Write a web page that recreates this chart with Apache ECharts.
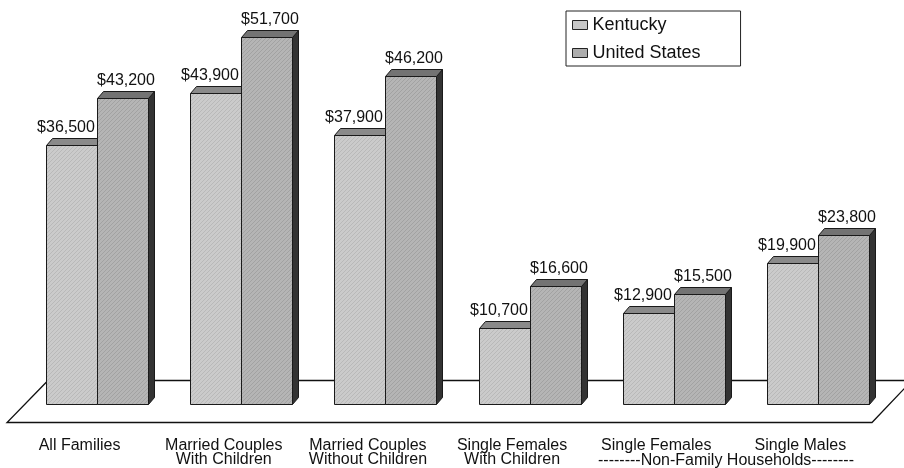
<!DOCTYPE html>
<html>
<head>
<meta charset="utf-8">
<title>Median Household Income: Kentucky vs. United States</title>
<script src="https://cdn.jsdelivr.net/npm/echarts@6/dist/echarts.min.js"></script>
<style>
  html, body { margin: 0; padding: 0; background: #fff; }
  #chart { width: 904px; height: 468px; }
</style>
</head>
<body>
<div id="chart"></div>
<script>
// Household types along the floor of the chart
const categories = [
  'All Families',
  'Married Couples\nWith Children',
  'Married Couples\nWithout Children',
  'Single Females\nWith Children',
  'Single Females',
  'Single Males'
];
// Median income, dollars
const kentucky = [36500, 43900, 37900, 10700, 12900, 19900];
const unitedStates = [43200, 51700, 46200, 16600, 15500, 23800];
const seriesNames = ['Kentucky', 'United States'];

const FONT = '"Liberation Sans", Arial, Helvetica, sans-serif';
const DEPTH_X = 6;
const DEPTH_Y = 7;

// Fine diagonal hatching used on the front face of each bar
function hatch(base, line) {
  const c = document.createElement('canvas');
  c.width = 4; c.height = 4;
  const g = c.getContext('2d');
  g.fillStyle = base;
  g.fillRect(0, 0, 4, 4);
  g.fillStyle = line;
  for (let i = 0; i < 4; i++) g.fillRect(i, 3 - i, 1, 1);
  return { image: c, repeat: 'repeat' };
}

const faces = [
  { front: hatch('#cbcbcb', '#b9b9b9'), top: '#8a8a8a', side: '#3a3a3a', plain: '#c6c6c6', labelShift: -6 },
  { front: hatch('#b5b5b5', '#a2a2a2'), top: '#737373', side: '#333333', plain: '#adadad', labelShift: 3 }
];

function money(v) {
  return '$' + v.toLocaleString('en-US');
}

function renderBar(params, api) {
  const cat = api.value(0);
  const val = api.value(1);
  const base = api.coord([cat, 0]);
  const top = api.coord([cat, val]);
  const band = api.size([1, 0])[0];
  const w = Math.round(band * 0.354);
  const s = params.seriesIndex;
  const f = faces[s];
  const x0 = Math.round(s === 0 ? base[0] - w : base[0]) + 0.5;
  const x1 = x0 + w;
  const yb = Math.round(base[1]) + 0.5;
  const yt = Math.round(top[1]) + 0.5;
  const edge = { stroke: '#1a1a1a', lineWidth: 1 };
  return {
    type: 'group',
    children: [
      {
        type: 'polygon',
        shape: { points: [[x1, yt], [x1 + DEPTH_X, yt - DEPTH_Y], [x1 + DEPTH_X, yb - DEPTH_Y], [x1, yb]] },
        style: Object.assign({ fill: f.side }, edge)
      },
      {
        type: 'polygon',
        shape: { points: [[x0, yt], [x0 + DEPTH_X, yt - DEPTH_Y], [x1 + DEPTH_X, yt - DEPTH_Y], [x1, yt]] },
        style: Object.assign({ fill: f.top }, edge)
      },
      {
        type: 'rect',
        shape: { x: x0, y: yt, width: w, height: yb - yt },
        style: Object.assign({ fill: f.front }, edge)
      },
      {
        type: 'text',
        x: (x0 + x1) / 2 + f.labelShift,
        y: yt - DEPTH_Y - 3,
        style: {
          text: money(val),
          font: '16px ' + FONT,
          fill: '#111',
          align: 'center',
          verticalAlign: 'bottom'
        }
      }
    ]
  };
}

const chart = echarts.init(document.getElementById('chart'), null, { renderer: 'canvas' });

chart.setOption({
  backgroundColor: '#ffffff',
  animation: false,
  grid: { left: 25, right: 14, top: 14, bottom: 62 },
  legend: {
    orient: 'vertical',
    left: 566,
    top: 11,
    data: seriesNames,
    itemWidth: 15,
    itemHeight: 9,
    itemGap: 8,
    icon: 'rect',
    padding: [4, 40, 3, 6],
    borderColor: '#222',
    borderWidth: 1,
    backgroundColor: '#fff',
    itemStyle: { borderColor: '#222', borderWidth: 1 },
    textStyle: { fontFamily: FONT, fontSize: 18, color: '#111', lineHeight: 20 }
  },
  xAxis: {
    type: 'category',
    data: categories,
    axisLine: { show: false },
    axisTick: { show: false },
    splitLine: { show: false },
    axisLabel: {
      interval: 0,
      margin: 35,
      padding: [0, 35, 0, 0],
      fontFamily: FONT,
      fontSize: 16,
      lineHeight: 14,
      color: '#111'
    }
  },
  yAxis: {
    type: 'value',
    min: 0,
    max: 55000,
    show: false
  },
  graphic: [
    {
      type: 'polygon',
      z: -10,
      silent: true,
      shape: { points: [[48, 380.5], [912, 380.5], [872, 422.5], [7, 422.5]] },
      style: { fill: '#fff', stroke: '#111', lineWidth: 1.3 }
    },
    {
      type: 'text',
      z: 10,
      x: 726,
      y: 461,
      style: {
        text: '--------Non-Family Households--------',
        font: '16px ' + FONT,
        fill: '#111',
        align: 'center',
        verticalAlign: 'middle'
      }
    }
  ],
  series: [
    {
      name: seriesNames[0],
      type: 'custom',
      z: 2,
      itemStyle: { color: faces[0].plain },
      renderItem: renderBar,
      encode: { x: 0, y: 1 },
      data: kentucky.map((v, i) => [i, v])
    },
    {
      name: seriesNames[1],
      type: 'custom',
      z: 3,
      itemStyle: { color: faces[1].plain },
      renderItem: renderBar,
      encode: { x: 0, y: 1 },
      data: unitedStates.map((v, i) => [i, v])
    }
  ]
});
</script>
</body>
</html>
